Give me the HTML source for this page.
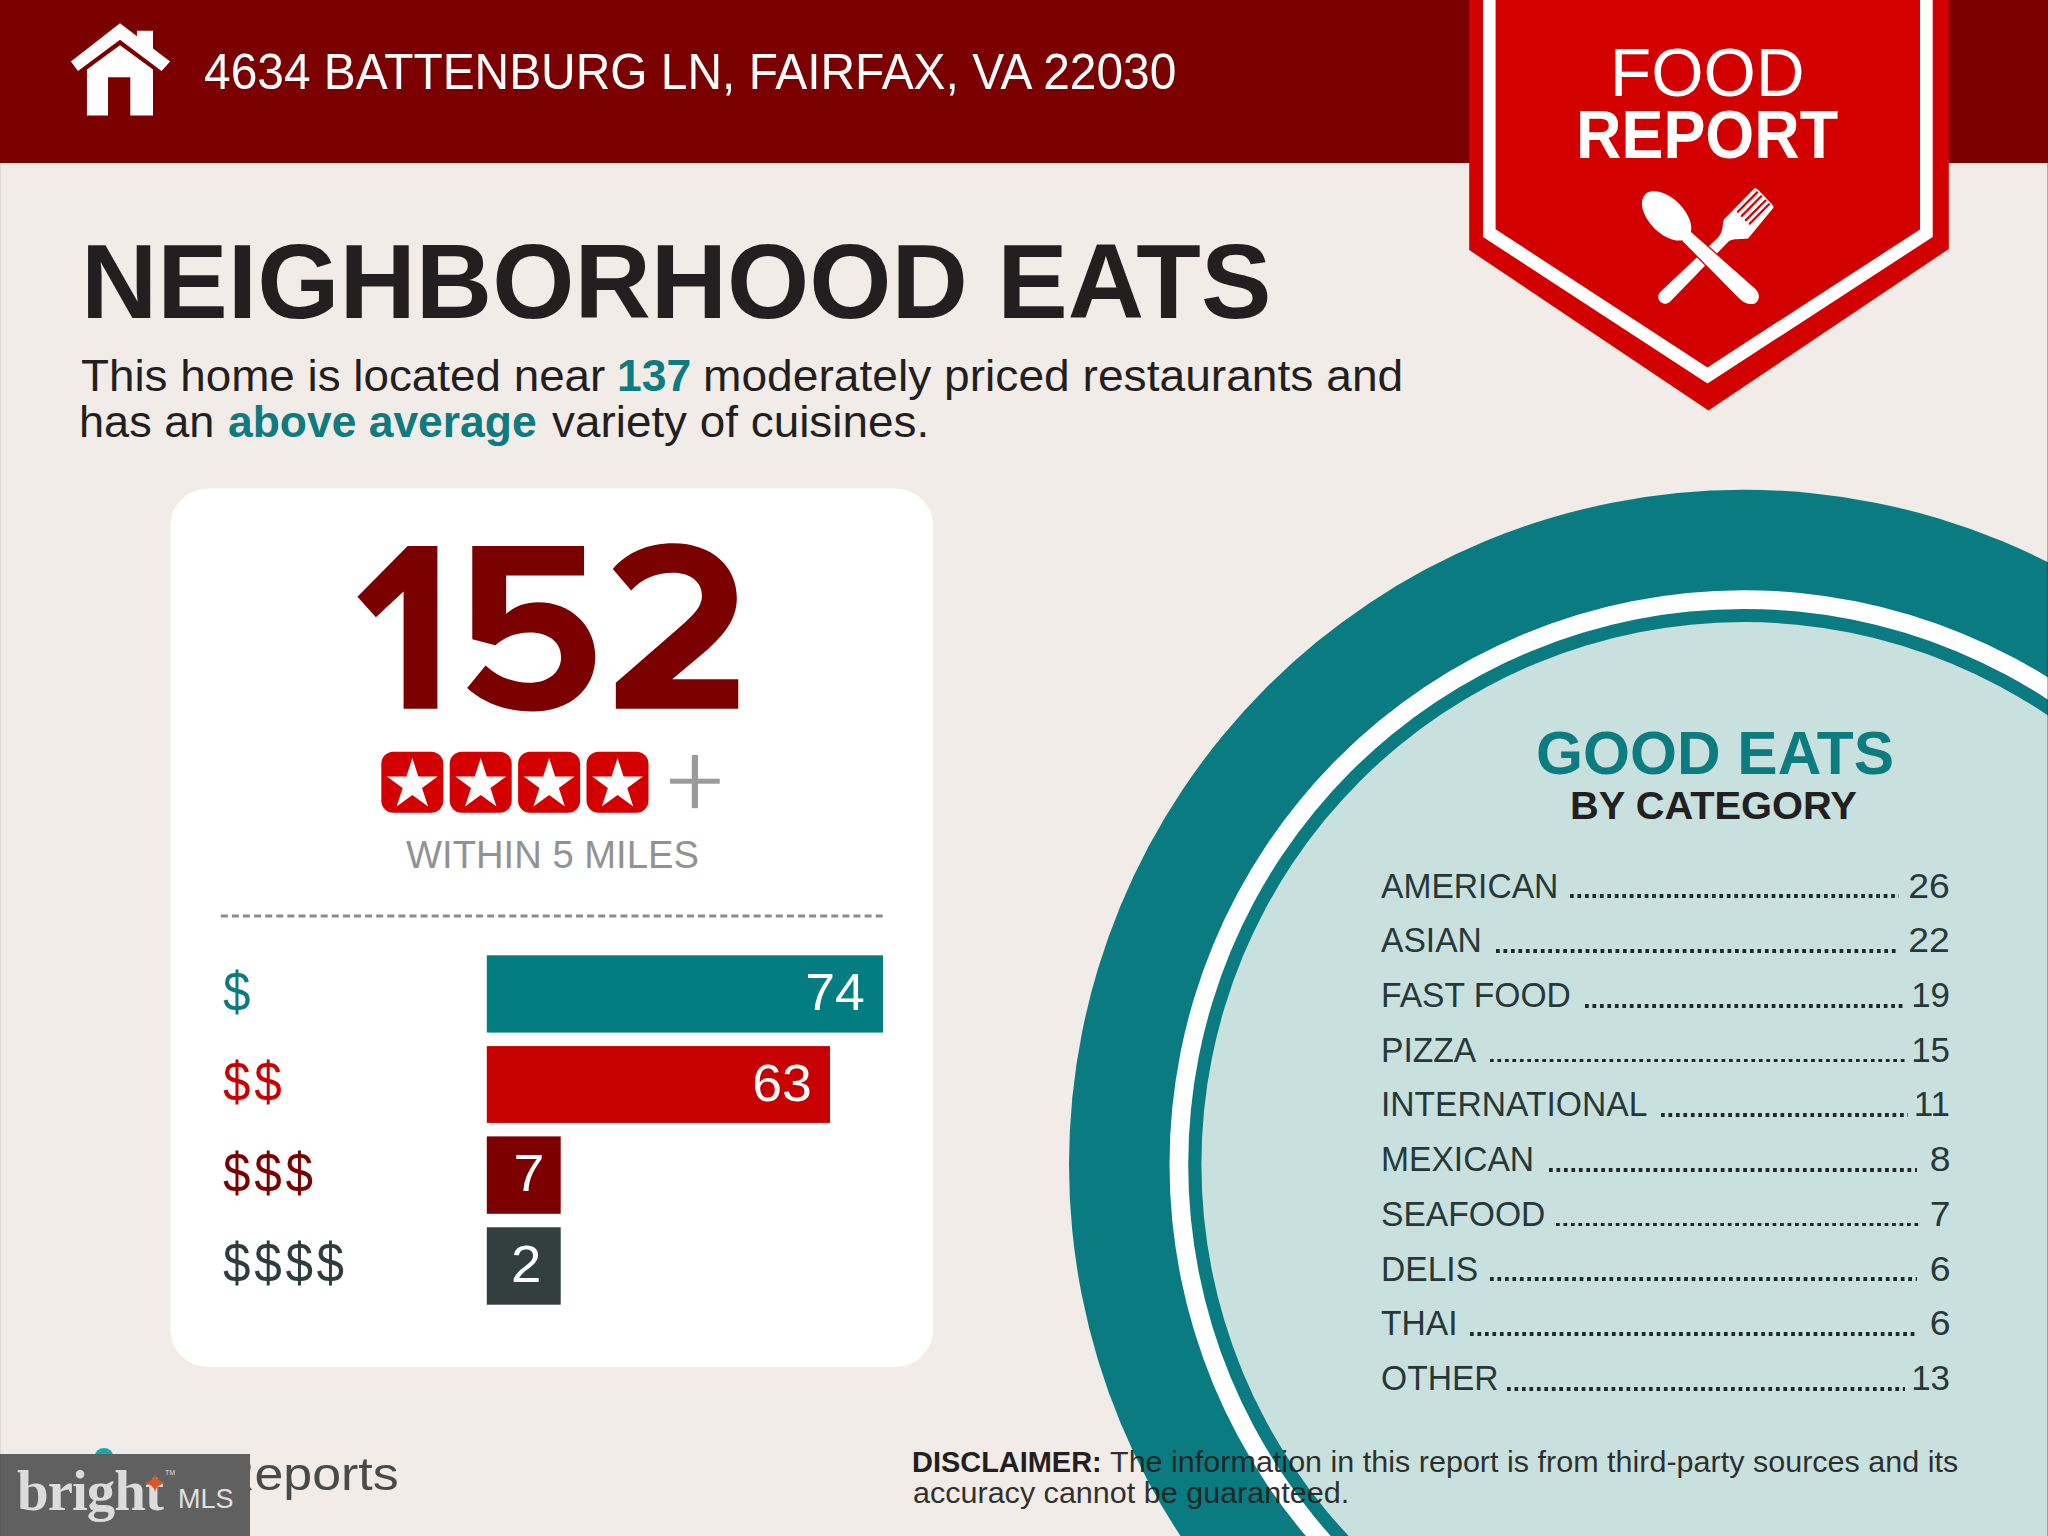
<!DOCTYPE html>
<html><head><meta charset="utf-8"><style>
html,body{margin:0;padding:0;}
body{width:2048px;height:1536px;position:relative;overflow:hidden;background:#f1ece8;font-family:"Liberation Sans",sans-serif;}
.abs{position:absolute;}
.t{position:absolute;white-space:nowrap;line-height:1;}
.dots{position:absolute;height:3.8px;background-image:linear-gradient(to right,#1b2a2a 0,#1b2a2a 3.9px,transparent 3.9px);background-size:7.47px 3.8px;background-repeat:repeat-x;}
</style></head><body>
<svg class="abs" style="left:0;top:0" width="2048" height="1536" viewBox="0 0 2048 1536"><rect x="0" y="0" width="2048" height="163" fill="#7b0000"/><circle cx="1743.7" cy="1164.4" r="674.7" fill="#0a7b80"/><circle cx="1743.7" cy="1164.4" r="574.2" fill="#ffffff"/><circle cx="1743.7" cy="1164.4" r="555.5" fill="#0a7b80"/><circle cx="1743.7" cy="1164.4" r="542.3" fill="#c9e1de"/><polygon points="1469.2,0 1469.2,250 1708.5,410.4 1948.8,249 1948.8,0" fill="#d30000"/><polygon points="1483,0 1483,237 1707.5,383.5 1932.7,237 1932.7,0" fill="#ffffff"/><polygon points="1495.6,0 1495.6,229.3 1707.5,367.4 1920,229.5 1920,0" fill="#d30000"/><rect x="170.3" y="488.4" width="762.9" height="878.7" rx="38" ry="38" fill="#ffffff"/><rect x="381.3" y="751.7" width="62" height="61" rx="12" ry="12" fill="#d40000"/><polygon points="412.35,758.00 418.35,776.50 437.79,776.48 422.05,787.90 428.07,806.39 412.35,794.95 396.63,806.39 402.65,787.90 386.91,776.48 406.35,776.50" fill="#ffffff"/><rect x="449.7" y="751.7" width="62" height="61" rx="12" ry="12" fill="#d40000"/><polygon points="480.75,758.00 486.75,776.50 506.19,776.48 490.45,787.90 496.47,806.39 480.75,794.95 465.03,806.39 471.05,787.90 455.31,776.48 474.75,776.50" fill="#ffffff"/><rect x="518.1" y="751.7" width="62" height="61" rx="12" ry="12" fill="#d40000"/><polygon points="549.15,758.00 555.15,776.50 574.59,776.48 558.85,787.90 564.87,806.39 549.15,794.95 533.43,806.39 539.45,787.90 523.71,776.48 543.15,776.50" fill="#ffffff"/><rect x="586.5" y="751.7" width="62" height="61" rx="12" ry="12" fill="#d40000"/><polygon points="617.55,758.00 623.55,776.50 642.99,776.48 627.25,787.90 633.27,806.39 617.55,794.95 601.83,806.39 607.85,787.90 592.11,776.48 611.55,776.50" fill="#ffffff"/><rect x="669.9" y="778.7" width="49.8" height="5" fill="#9b9b9b"/><rect x="691.8" y="755" width="6.2" height="53.2" fill="#9b9b9b"/><line x1="220.8" y1="916" x2="884" y2="916" stroke="#8c8c8c" stroke-width="3.2" stroke-dasharray="7 4.1"/><rect x="486.8" y="955.3" width="396.2" height="77.3" fill="#037d81"/><rect x="486.8" y="1046.1" width="343.2" height="76.8" fill="#c70000"/><rect x="486.8" y="1136.4" width="73.9" height="77.4" fill="#7d0000"/><rect x="486.8" y="1227.3" width="73.9" height="77.4" fill="#333f3f"/></svg>
<svg class="abs" style="left:60px;top:10px" width="120" height="120" viewBox="0 0 1536 1536"><polygon points="140,660 768,170 985,336 985,265 1190,265 1190,492 1410,660 1300,780 768,380 230,780" fill="#fff"/><polygon points="345,760 768,450 1190,760 1190,1350 900,1350 900,860 615,860 615,1350 345,1350" fill="#fff"/></svg>
<svg class="abs" style="left:1630px;top:180px" width="160" height="130" viewBox="0 0 1890 1536"><path d="M1469,100 C1485,95 1500,105 1510,112 L1680,290 C1695,305 1700,320 1690,335 L1395,690 C1300,700 1220,690 1170,720 L470,1440 C420,1480 350,1460 335,1400 C330,1370 340,1340 360,1320 L1040,680 C1075,640 1090,600 1095,540 C1100,490 1105,470 1120,455 Z" fill="#fff"/><g stroke="#d30000" stroke-width="26" stroke-linecap="round"><line x1="1274" y1="376" x2="1502" y2="146"/><line x1="1321" y1="424" x2="1550" y2="193"/><line x1="1369" y1="474" x2="1600" y2="243"/><line x1="1414" y1="516" x2="1642" y2="286"/></g><g stroke="#d30000" stroke-width="30" fill="#d30000"><ellipse cx="432" cy="424" rx="358" ry="206" transform="rotate(45 432 424)"/><path d="M660,560 L760,650 L1485,1290 C1535,1340 1535,1420 1485,1452 C1435,1482 1350,1462 1300,1410 L620,720 Z"/></g><g fill="#fff"><ellipse cx="432" cy="424" rx="358" ry="206" transform="rotate(45 432 424)"/><path d="M660,560 L760,650 L1485,1290 C1535,1340 1535,1420 1485,1452 C1435,1482 1350,1462 1300,1410 L620,720 Z"/></g></svg>
<svg class="abs" style="left:340px;top:530px" width="420" height="200" viewBox="0 0 2048 975"><path fill="#7b0000" d="M85,325 L330,78 L475,78 L475,872 L310,872 L310,300 L175,425 Z"/><path fill="#7b0000" d="M645,78 L1190,78 L1190,222 L810,222 L810,410 C850,372 905,352 965,352 C1130,352 1245,470 1245,618 C1245,775 1120,885 940,885 C800,885 690,835 620,770 L710,660 C770,715 845,745 920,745 C1020,745 1078,690 1078,620 C1078,548 1018,500 925,500 C860,500 800,522 758,562 L645,532 Z"/><path fill="#7b0000" d="M1330,190 C1400,110 1500,65 1625,65 C1815,65 1935,180 1935,330 C1935,440 1870,510 1790,585 L1620,728 L1942,728 L1942,872 L1345,872 L1345,745 L1660,470 C1730,408 1765,370 1765,320 C1765,250 1705,208 1625,208 C1535,208 1470,240 1420,295 Z"/></svg>
<div class="t" style="left:203.94px;top:47.04px;font-size:49.20px;font-weight:normal;color:#ffffff;transform:scaleX(0.9735);transform-origin:left top;">4634 BATTENBURG LN, FAIRFAX, VA 22030</div><div class="t" style="left:1610.31px;top:38.18px;font-size:69.00px;font-weight:normal;color:#ffffff;transform:scaleX(0.9760);transform-origin:left top;">FOOD</div><div class="t" style="left:1576.22px;top:100.49px;font-size:68.40px;font-weight:bold;color:#ffffff;transform:scaleX(0.9200);transform-origin:left top;">REPORT</div><div class="t" style="left:81.46px;top:229.21px;font-size:105.10px;font-weight:bold;color:#231f20;transform:scaleX(1.0060);transform-origin:left top;">NEIGHBORHOOD EATS</div><div class="t" style="left:80.68px;top:354.97px;font-size:43.50px;font-weight:normal;color:#231f20;transform:scaleX(1.0527);transform-origin:left top;">This home is located near</div><div class="t" style="left:616.63px;top:354.97px;font-size:43.50px;font-weight:bold;color:#0f7b80;transform:scaleX(1.0220);transform-origin:left top;">137</div><div class="t" style="left:703.23px;top:354.97px;font-size:43.50px;font-weight:normal;color:#231f20;transform:scaleX(1.0608);transform-origin:left top;">moderately priced restaurants and</div><div class="t" style="left:78.90px;top:400.57px;font-size:43.50px;font-weight:normal;color:#231f20;transform:scaleX(1.0360);transform-origin:left top;">has an</div><div class="t" style="left:228.41px;top:400.57px;font-size:43.50px;font-weight:bold;color:#0f7b80;transform:scaleX(1.0210);transform-origin:left top;">above average</div><div class="t" style="left:551.60px;top:400.57px;font-size:43.50px;font-weight:normal;color:#231f20;transform:scaleX(1.0540);transform-origin:left top;">variety of cuisines.</div><div class="t" style="left:406.20px;top:835.79px;font-size:38.40px;font-weight:normal;color:#929292;transform:scaleX(0.9950);transform-origin:left top;">WITHIN 5 MILES</div><div class="t" style="left:223.21px;top:964.20px;font-size:56.10px;font-weight:normal;color:#0b7b80;transform:scaleX(0.8800);transform-origin:left top;letter-spacing:4.26px;">$</div><div class="t" style="left:223.21px;top:1054.20px;font-size:56.10px;font-weight:normal;color:#c80000;transform:scaleX(0.8800);transform-origin:left top;letter-spacing:4.26px;">$$</div><div class="t" style="left:223.21px;top:1144.80px;font-size:56.10px;font-weight:normal;color:#7b0000;transform:scaleX(0.8800);transform-origin:left top;letter-spacing:4.26px;">$$$</div><div class="t" style="left:223.21px;top:1235.40px;font-size:56.10px;font-weight:normal;color:#2f3c3c;transform:scaleX(0.8800);transform-origin:left top;letter-spacing:4.26px;">$$$$</div><div class="t" style="right:1183.21px;top:966.82px;font-size:51.00px;font-weight:normal;color:#fff;text-align:right;transform:scaleX(1.0500);transform-origin:right top;">74</div><div class="t" style="right:1236.37px;top:1058.42px;font-size:51.00px;font-weight:normal;color:#fff;text-align:right;transform:scaleX(1.0500);transform-origin:right top;">63</div><div class="t" style="right:1503.94px;top:1148.22px;font-size:51.00px;font-weight:normal;color:#fff;text-align:right;transform:scaleX(1.0900);transform-origin:right top;">7</div><div class="t" style="right:1506.89px;top:1239.02px;font-size:51.00px;font-weight:normal;color:#fff;text-align:right;transform:scaleX(1.0700);transform-origin:right top;">2</div><div class="t" style="left:1535.58px;top:723.49px;font-size:60.60px;font-weight:bold;color:#0d7c80;transform:scaleX(0.9968);transform-origin:left top;">GOOD EATS</div><div class="t" style="left:1570.21px;top:786.70px;font-size:38.50px;font-weight:bold;color:#231f20;transform:scaleX(1.0340);transform-origin:left top;">BY CATEGORY</div><div class="t" style="left:1381.10px;top:868.55px;font-size:34.90px;font-weight:normal;color:#273838;transform:scaleX(0.9630);transform-origin:left top;">AMERICAN</div><div class="t" style="right:97.96px;top:868.55px;font-size:34.90px;font-weight:normal;color:#273838;text-align:right;transform:scaleX(1.0700);transform-origin:right top;">26</div><div class="dots" style="left:1569.8px;top:894.4px;width:329.5px"></div><div class="t" style="left:1381.10px;top:923.27px;font-size:34.90px;font-weight:normal;color:#273838;transform:scaleX(0.9630);transform-origin:left top;">ASIAN</div><div class="t" style="right:97.96px;top:923.27px;font-size:34.90px;font-weight:normal;color:#273838;text-align:right;transform:scaleX(1.0700);transform-origin:right top;">22</div><div class="dots" style="left:1496.0px;top:949.1px;width:403.3px"></div><div class="t" style="left:1381.10px;top:977.99px;font-size:34.90px;font-weight:normal;color:#273838;transform:scaleX(0.9630);transform-origin:left top;">FAST FOOD</div><div class="t" style="right:98.04px;top:977.99px;font-size:34.90px;font-weight:normal;color:#273838;text-align:right;">19</div><div class="dots" style="left:1585.4px;top:1003.8px;width:320.0px"></div><div class="t" style="left:1381.10px;top:1032.71px;font-size:34.90px;font-weight:normal;color:#273838;transform:scaleX(0.9630);transform-origin:left top;">PIZZA</div><div class="t" style="right:98.04px;top:1032.71px;font-size:34.90px;font-weight:normal;color:#273838;text-align:right;">15</div><div class="dots" style="left:1489.9px;top:1058.6px;width:415.2px"></div><div class="t" style="left:1381.10px;top:1087.43px;font-size:34.90px;font-weight:normal;color:#273838;transform:scaleX(0.9630);transform-origin:left top;">INTERNATIONAL</div><div class="t" style="right:98.04px;top:1087.43px;font-size:34.90px;font-weight:normal;color:#273838;text-align:right;">11</div><div class="dots" style="left:1660.8px;top:1113.3px;width:247.2px"></div><div class="t" style="left:1381.10px;top:1142.15px;font-size:34.90px;font-weight:normal;color:#273838;transform:scaleX(0.9630);transform-origin:left top;">MEXICAN</div><div class="t" style="right:97.96px;top:1142.15px;font-size:34.90px;font-weight:normal;color:#273838;text-align:right;transform:scaleX(1.0700);transform-origin:right top;">8</div><div class="dots" style="left:1548.5px;top:1168.0px;width:368.2px"></div><div class="t" style="left:1381.10px;top:1196.87px;font-size:34.90px;font-weight:normal;color:#273838;transform:scaleX(0.9630);transform-origin:left top;">SEAFOOD</div><div class="t" style="right:97.96px;top:1196.87px;font-size:34.90px;font-weight:normal;color:#273838;text-align:right;transform:scaleX(1.0700);transform-origin:right top;">7</div><div class="dots" style="left:1555.8px;top:1222.7px;width:366.7px"></div><div class="t" style="left:1381.10px;top:1251.59px;font-size:34.90px;font-weight:normal;color:#273838;transform:scaleX(0.9630);transform-origin:left top;">DELIS</div><div class="t" style="right:97.96px;top:1251.59px;font-size:34.90px;font-weight:normal;color:#273838;text-align:right;transform:scaleX(1.0700);transform-origin:right top;">6</div><div class="dots" style="left:1489.9px;top:1277.4px;width:426.8px"></div><div class="t" style="left:1381.10px;top:1306.31px;font-size:34.90px;font-weight:normal;color:#273838;transform:scaleX(0.9630);transform-origin:left top;">THAI</div><div class="t" style="right:97.96px;top:1306.31px;font-size:34.90px;font-weight:normal;color:#273838;text-align:right;transform:scaleX(1.0700);transform-origin:right top;">6</div><div class="dots" style="left:1470.4px;top:1332.2px;width:446.3px"></div><div class="t" style="left:1381.10px;top:1361.03px;font-size:34.90px;font-weight:normal;color:#273838;transform:scaleX(0.9630);transform-origin:left top;">OTHER</div><div class="t" style="right:98.04px;top:1361.03px;font-size:34.90px;font-weight:normal;color:#273838;text-align:right;">13</div><div class="dots" style="left:1507.0px;top:1386.9px;width:398.1px"></div><div class="t" style="left:912.16px;top:1447.82px;font-size:28.80px;font-weight:bold;color:#231f20;transform:scaleX(1.0050);transform-origin:left top;">DISCLAIMER:</div><div class="t" style="left:1110.29px;top:1447.82px;font-size:28.80px;font-weight:normal;color:#231f20;transform:scaleX(1.0600);transform-origin:left top;opacity:0.92;">The information in this report is from third-party sources and its</div><div class="t" style="left:912.68px;top:1478.62px;font-size:28.80px;font-weight:normal;color:#231f20;transform:scaleX(1.0600);transform-origin:left top;opacity:0.92;">accuracy cannot be guaranteed.</div><div class="t" style="left:216.8px;top:1450.64px;font-size:46.6px;color:#4a4a4a;transform:scaleX(1.114);transform-origin:left top">Reports</div>
<div class="abs" style="left:95px;top:1447.9px;width:18px;height:8px;border-radius:9px 9px 0 0/8px 8px 0 0;background:#18a9a2"></div><div class="abs" style="left:0;top:1454px;width:250px;height:82px;background:#606060"></div><div class="t" style="left:17px;top:1462px;font-family:'Liberation Serif',serif;font-weight:bold;font-size:57px;color:#dcdcdc;letter-spacing:-1px">bright</div><div class="t" style="left:178px;top:1486px;font-size:27px;color:#e0e0e0">MLS</div><svg class="abs" style="left:144px;top:1474px" width="22" height="18" viewBox="0 0 22 18"><path d="M11,0 Q12,7 22,9 Q12,11 11,18 Q10,11 0,9 Q10,7 11,0Z" fill="#e0552a"/></svg><div class="t" style="left:165px;top:1469px;font-size:7px;color:#ddd">TM</div>
<div class="abs" style="left:0;top:163px;width:1px;height:1373px;background:rgba(0,0,0,0.07)"></div><div class="abs" style="left:2047px;top:163px;width:1px;height:1373px;background:rgba(0,0,0,0.28)"></div>
</body></html>
